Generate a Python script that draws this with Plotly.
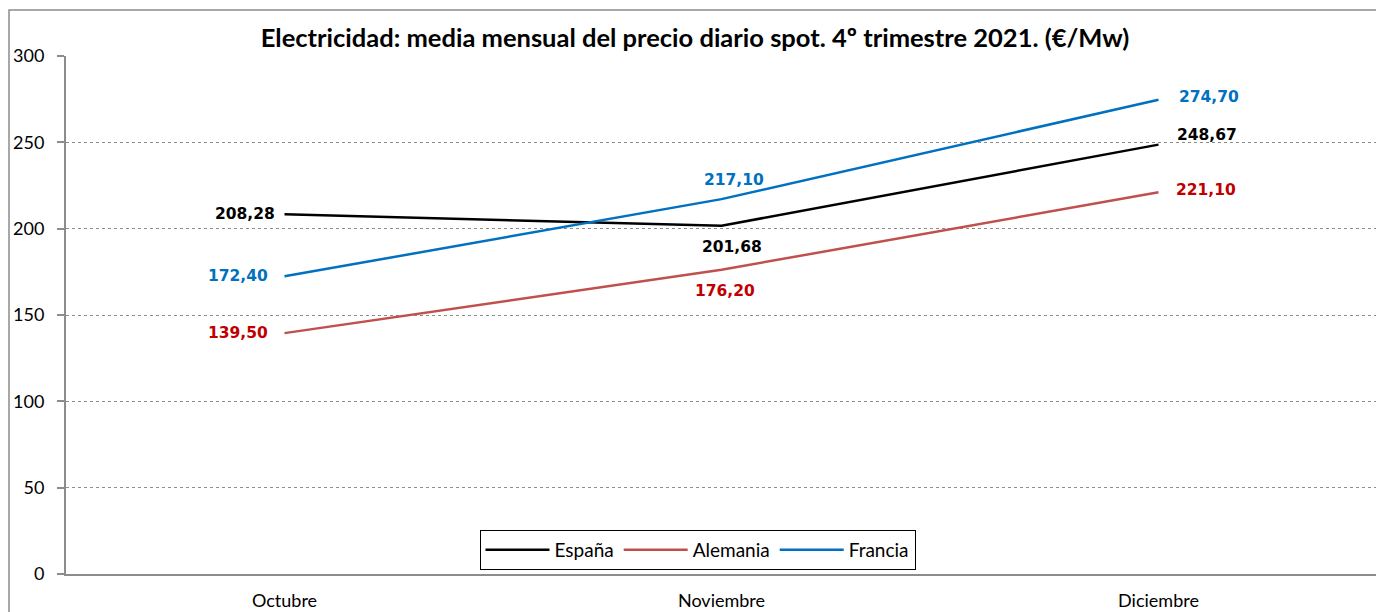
import plotly.graph_objects as go

months = ["Octubre", "Noviembre", "Diciembre"]
espana = [208.28, 201.68, 248.67]
alemania = [139.50, 176.20, 221.10]
francia = [172.40, 217.10, 274.70]
y_ticks = [0, 50, 100, 150, 200, 250, 300]

title = "Electricidad: media mensual del precio diario spot. 4º trimestre 2021. (€/Mw)"

series = [
    ("España", espana, "#000000", "#000000"),
    ("Alemania", alemania, "#C0504D", "#C00000"),
    ("Francia", francia, "#0070C0", "#0070C0"),
]

# label placement per series per point: (xanchor, yanchor, xshift, yshift)
placements = {
    "España": [("right", "middle", -8, 0), ("center", "middle", 10, -21), ("left", "middle", 16, 10)],
    "Alemania": [("right", "middle", -15, 0), ("center", "middle", 3, -21), ("left", "middle", 15, 2)],
    "Francia": [("right", "middle", -15, 0), ("center", "middle", 12, 19), ("left", "middle", 18, 3)],
}

# page offset (browser body margin)
OFF = 8
W, H = 1384 - OFF, 612 - OFF
L, T, R, B = 66 - OFF, 56 - OFF, 7, 38
PW, PH = W - L - R, H - T - B

fig = go.Figure()
annotations = []
for name, vals, lc, tc in series:
    fig.add_trace(go.Scatter(x=months, y=vals, name=name, mode="lines",
                             line=dict(color=lc, width=2.5)))
    for i, (m, v) in enumerate(zip(months, vals)):
        xa, ya, xs, ys = placements[name][i]
        annotations.append(dict(x=m, y=v, xref="x", yref="y",
                                text=f"{v:.2f}".replace(".", ","),
                                showarrow=False, xanchor=xa, yanchor=ya,
                                xshift=xs, yshift=ys,
                                font=dict(family="DejaVu Sans", size=15.5, color=tc, weight="bold")))

fig.update_layout(
    width=W, height=H,
    margin=dict(l=L, t=T, r=R, b=B, autoexpand=False),
    paper_bgcolor="white", plot_bgcolor="white",
    font=dict(family="Lato", size=18, color="#000000"),
    title=dict(text=title, x=(695 - OFF) / W, xanchor="center", y=1 - (38 - OFF) / H, yanchor="middle",
               font=dict(family="Lato", size=25.5, color="#000000", weight="bold")),
    showlegend=True,
    legend=dict(orientation="h", x=(697.5 - 66) / PW, xanchor="center", y=(574 - 550) / PH, yanchor="middle",
                bordercolor="#000000", borderwidth=1, bgcolor="white",
                font=dict(family="Lato", size=19), itemwidth=64),
    annotations=annotations,
    xaxis=dict(type="category", range=[-0.5, 2.5], showline=True, linecolor="#8C8C8C",
               linewidth=2, showgrid=False, ticks="", tickfont=dict(size=18), fixedrange=True,
               ticklabelstandoff=9),
    yaxis=dict(range=[0, 300], tickvals=y_ticks, showline=True, linecolor="#8C8C8C",
               linewidth=2, showgrid=True, gridcolor="#8C8C8C", griddash="dot", gridwidth=1,
               ticks="outside", ticklen=7, tickcolor="#8C8C8C", tickwidth=2,
               tickfont=dict(size=18), zeroline=False, ticklabelstandoff=9),
    shapes=[dict(type="rect", xref="paper", yref="paper",
                 x0=(9 - 66) / PW, x1=(1383 - 66) / PW,
                 y0=-0.2, y1=(574 - 10) / PH,
                 line=dict(color="#8C8C8C", width=1.5), layer="below")],
)

fig.write_html("out.html")
